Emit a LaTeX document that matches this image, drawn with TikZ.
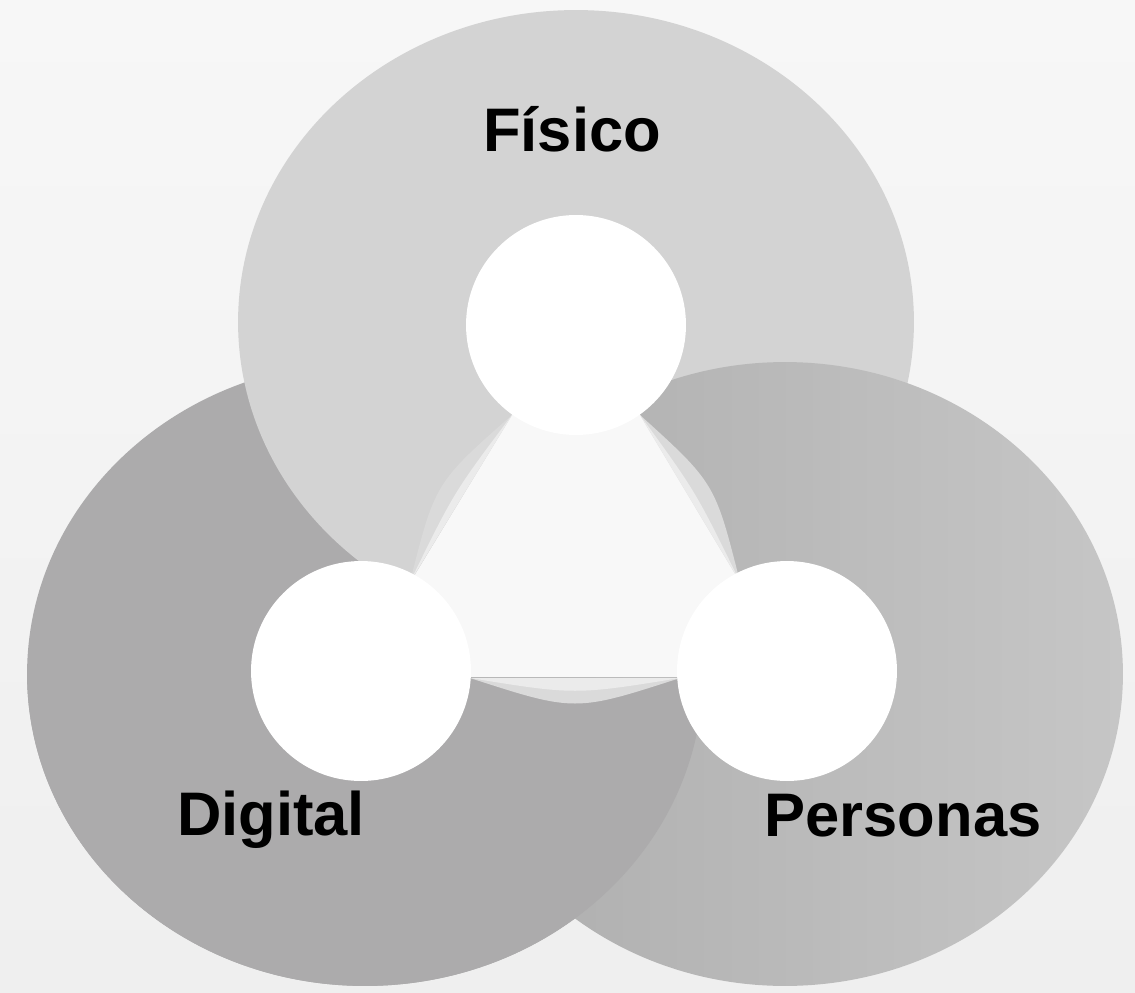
\documentclass[tikz,border=0pt]{standalone}
\usepackage{fontspec}
\setmainfont{Liberation Sans}
\usepackage{tikz}
\usetikzlibrary{positioning,calc}
\definecolor{PaperTop}{HTML}{F7F7F7}
\definecolor{PaperLow}{HTML}{EFEFEF}
\definecolor{Silver}{HTML}{D3D3D3}
\definecolor{Slate}{HTML}{ACABAC}
\definecolor{SteelL}{HTML}{ADADAD}
\definecolor{SteelR}{HTML}{C6C6C6}
\definecolor{Core}{HTML}{F8F8F8}
\definecolor{Lens}{HTML}{DADADA}
\definecolor{LensHi}{HTML}{EBEBEB}

\begin{document}
\begin{tikzpicture}[x=.02cm,y=.02cm,
ring/.style={x radius=6.76cm,y radius=6.24cm},
hub/.style={circle,fill=white,minimum size=4.4cm,inner sep=0pt},
lab/.style={font=\bfseries\fontsize{35}{42}\selectfont,anchor=base,inner sep=0pt}]
\shade[top color=PaperTop,bottom color=PaperLow] (0,0) rectangle (1135,992);
\useasboundingbox (0,0) rectangle (1135,992);
% three rings, each one lying over the next
\fill[Slate] (365,318) ellipse [ring];
\fill[Silver] (576,670) ellipse [ring];
\shade[left color=SteelL,right color=SteelR] (785,318) ellipse [ring];
\begin{scope}
\clip (0,0) rectangle (1135,312);
\fill[Slate] (365,318) ellipse [ring];
\end{scope}
% centre triangle and its lenses
\fill[Core] (576,683)--(353,315)--(799,315)--cycle;
\fill[Lens] (512,577) .. controls (435,509) .. (410,410) -- cycle;
\fill[LensHi] (512,577) .. controls (454,500) .. (410,410) -- cycle;
\fill[Lens] (640,577) .. controls (715,509) .. (740,410) -- cycle;
\fill[LensHi] (640,577) .. controls (696,500) .. (740,410) -- cycle;
\fill[Lens] (470,314) .. controls (575,280) .. (680,314) -- cycle;
\fill[LensHi] (470,314) .. controls (575,297) .. (680,314) -- cycle;
% hubs
\node[hub] (fis) at (576,667) {};
\node[hub] (dig) at (361,321) {};
\node[hub] (per) at (787,321) {};
\node[lab] (tfis) at (572,840) {Físico};
\node[lab] (tdig) at (271,157) {Digital};
\node[lab] (tper) at (903,156) {Personas};
\end{tikzpicture}
\end{document}
